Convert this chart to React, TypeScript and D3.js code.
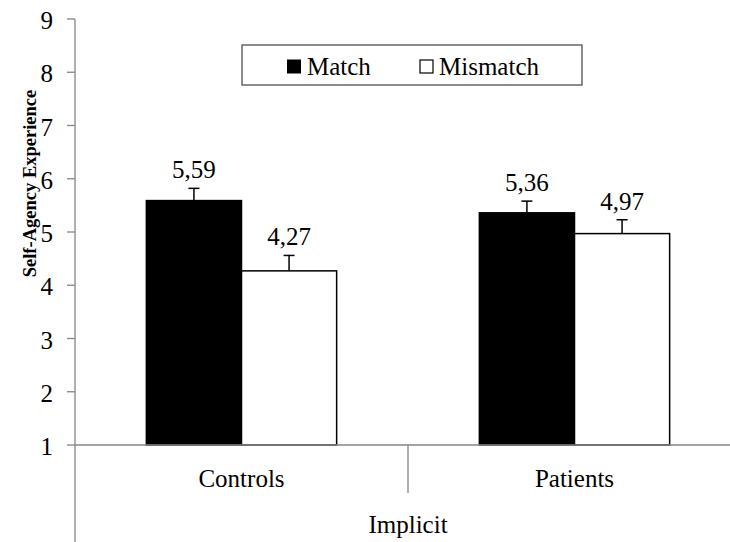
import React from "react";
import * as d3 from "d3";

const categories = ["Controls", "Patients"];
const series = ["Match", "Mismatch"];
const matchValues = [5.59, 5.36];
const mismatchValues = [4.27, 4.97];
const matchErrors = [0.23, 0.22];
const mismatchErrors = [0.29, 0.26];
const yTicks = [1, 2, 3, 4, 5, 6, 7, 8, 9];
const groupLabel = "Implicit";
const yTitle = "Self-Agency Experience";

const W = 730;
const H = 542;
const FONT = "Times New Roman";
const AXIS = "#868686";

function Label(props: {
  x: number;
  y: number;
  size: number;
  anchor?: string;
  bold?: boolean;
  transform?: string;
  children: React.ReactNode;
}) {
  return (
    <text
      x={props.x}
      y={props.y}
      transform={props.transform}
      fontSize={props.size}
      fontFamily={FONT}
      fontWeight={props.bold ? "bold" : "normal"}
      textAnchor={props.anchor ?? "start"}
      fill="#000"
      style={{ fontFamily: FONT }}
    >
      {props.children}
    </text>
  );
}

export default function App() {
  const left = 75;
  const right = 741;
  const y = d3.scaleLinear().domain([1, 9]).range([445, 19]);
  const x0 = d3.scaleBand().domain(categories).range([left, right]).padding(0);
  const x1 = d3
    .scaleBand()
    .domain(series)
    .range([0, x0.bandwidth()])
    .paddingInner(0)
    .paddingOuter(0.75);

  const fills: Record<string, string> = { Match: "#000000", Mismatch: "#ffffff" };
  const rows = categories.map((c, i) => ({
    category: c,
    bars: [
      { key: "Match", value: matchValues[i], err: matchErrors[i] },
      { key: "Mismatch", value: mismatchValues[i], err: mismatchErrors[i] },
    ],
  }));

  const base = y(1);
  const capHalf = 5.5;

  return (
    <svg width={W} height={H} style={{ position: "absolute", left: 0, top: 0, background: "#fff" }}>
      <rect x={0} y={0} width={W} height={H} fill="#fff" />

      {/* bars with error bars and value labels */}
      {rows.map((r) => (
        <g key={r.category} transform={`translate(${x0(r.category)},0)`}>
          {r.bars.map((b) => {
            const bx = x1(b.key)!;
            const bw = x1.bandwidth();
            const cx = bx + bw / 2;
            const top = y(b.value);
            const errTop = y(b.value + b.err);
            return (
              <g key={b.key}>
                <line x1={cx} x2={cx} y1={top} y2={errTop} stroke="#000" strokeWidth={1.5} />
                <line
                  x1={cx - capHalf}
                  x2={cx + capHalf}
                  y1={errTop}
                  y2={errTop}
                  stroke="#000"
                  strokeWidth={1.5}
                />
                <rect
                  x={bx}
                  y={top}
                  width={bw}
                  height={base - top}
                  fill={fills[b.key]}
                  stroke="#000"
                  strokeWidth={1.5}
                />
                <Label x={cx} y={errTop - 10} size={25} anchor="middle">
                  {b.value.toFixed(2).replace(".", ",")}
                </Label>
              </g>
            );
          })}
        </g>
      ))}

      {/* y axis */}
      <line x1={left} x2={left} y1={y(9)} y2={H} stroke={AXIS} strokeWidth={1.3} />
      {yTicks.map((t) => (
        <g key={t}>
          <line x1={left - 8} x2={left} y1={y(t)} y2={y(t)} stroke={AXIS} strokeWidth={1.3} />
          <Label x={53} y={y(t) + 10} size={25} anchor="end">
            {t}
          </Label>
        </g>
      ))}

      {/* x axis with category separators */}
      <line x1={left} x2={W} y1={base} y2={base} stroke={AXIS} strokeWidth={1.3} />
      {categories.slice(1).map((c) => (
        <line
          key={c}
          x1={x0(c)!}
          x2={x0(c)!}
          y1={base}
          y2={base + 48}
          stroke={AXIS}
          strokeWidth={1.3}
        />
      ))}
      {categories.map((c) => (
        <Label key={c} x={x0(c)! + x0.bandwidth() / 2} y={487} size={25} anchor="middle">
          {c}
        </Label>
      ))}
      <Label x={(left + right) / 2} y={533} size={25} anchor="middle">
        {groupLabel}
      </Label>

      {/* y axis title */}
      <Label x={0} y={0} size={18.5} bold anchor="middle" transform="translate(36,183.5) rotate(-90)">
        {yTitle}
      </Label>

      {/* legend */}
      <g>
        <rect x={242} y={45} width={340} height={40} fill="#fff" stroke="#404040" strokeWidth={1.2} />
        <rect x={287} y={59.5} width={14} height={14} fill="#000" />
        <Label x={307} y={75} size={25}>
          {series[0]}
        </Label>
        <rect x={420} y={60} width={13} height={13} fill="#fff" stroke="#000" strokeWidth={1.2} />
        <Label x={439} y={75} size={25}>
          {series[1]}
        </Label>
      </g>
    </svg>
  );
}
